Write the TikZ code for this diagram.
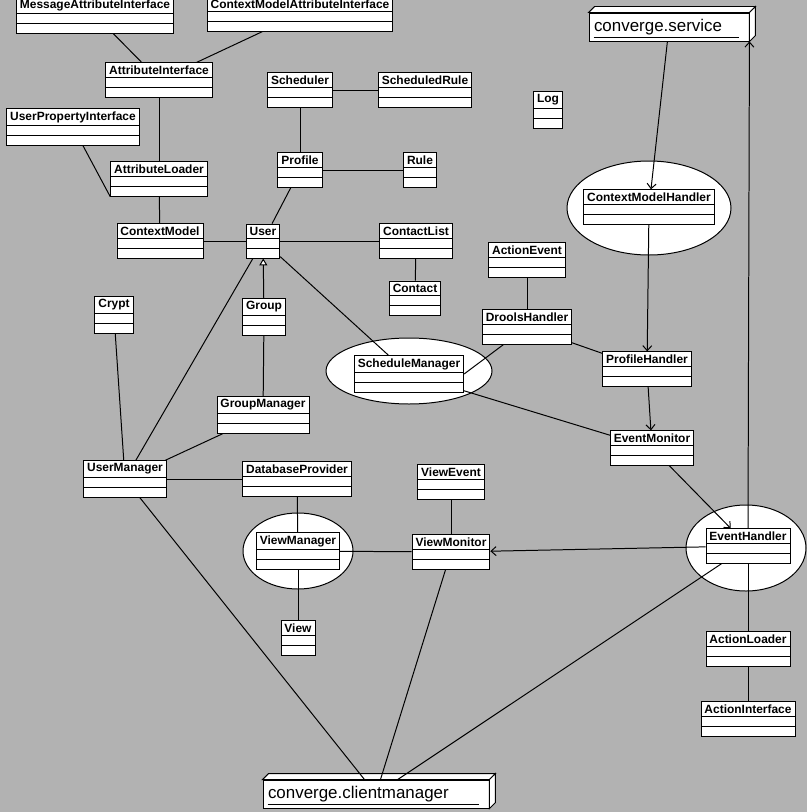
\documentclass[tikz,border=0pt]{standalone}
\usepackage{fontspec}
\setsansfont{Liberation Sans}
\usetikzlibrary{shapes.multipart,shapes.geometric,arrows.meta}
\tikzset{
  cls/.style={draw, fill=white, rectangle split, rectangle split parts=3,
    rectangle split empty part height=0.5pt, inner xsep=3.5pt, inner ysep=2.4pt,
    font=\sffamily\bfseries\fontsize{12}{13}\selectfont, line width=0.9pt},
  oval/.style={draw, fill=white, ellipse, line width=1pt},
  pkg/.style={draw, fill=white, font=\sffamily\fontsize{17}{18}\selectfont,
    minimum height=28bp, inner xsep=5pt, align=left, line width=0.9pt},
  link/.style={line width=1pt},
  dep/.style={line width=1pt, -{Straight Barb[length=5pt,width=9pt]}},
  gen/.style={line width=1pt, -{Triangle[open,length=7pt,width=8pt,fill=white]}},
}
\newcommand{\pkgbox}[1]{%
  \draw[line width=0.9pt, fill=white] (#1.north west) -- ++(6,-6) -- ([shift={(6,-6)}]#1.north east) -- (#1.north east) -- cycle;
  \draw[line width=0.9pt, fill=white] (#1.north east) -- ++(6,-6) -- ([shift={(6,-6)}]#1.south east) -- (#1.south east) -- cycle;
  \draw[line width=0.7pt] ([shift={(5,-4)}]#1.south west) -- ([shift={(-10,-4)}]#1.south east);
}
\begin{document}
\begin{tikzpicture}[x=1bp, y=-1bp]
  \fill[gray!60] (0,0) rectangle (807,812);
  \useasboundingbox (0,0) rectangle (807,812);

  % ellipses behind
  \node[oval, minimum width=166bp, minimum height=66bp] (sme) at (409,371) {};
  \node[oval, minimum width=110bp, minimum height=76bp] (vme) at (298,551) {};
  \node[oval, minimum width=120bp, minimum height=86bp] (ehe) at (746,548) {};
  \node[oval, minimum width=164bp, minimum height=94bp] (cmhe) at (649,208) {};

  % packages
  \node[pkg, text width=150bp] (service) at (669,27) {converge.service};
  \node[pkg, text width=216bp] (client) at (376,794) {converge.clientmanager};
  \pkgbox{service}
  \pkgbox{client}

  % classes
  \node[cls] (mai) at (95,15) {MessageAttributeInterface};
  \node[cls] (cmai) at (300,14) {ContextModelAttributeInterface};
  \node[cls] (ai) at (159,80) {AttributeInterface};
  \node[cls] (sched) at (300,90) {Scheduler};
  \node[cls] (srule) at (425,90) {ScheduledRule};
  \node[cls] (log) at (548,110) {Log};
  \node[cls] (upi) at (73,127) {UserPropertyInterface};
  \node[cls] (al) at (159,179) {AttributeLoader};
  \node[cls] (profile) at (300,170) {Profile};
  \node[cls] (rule) at (420,170) {Rule};
  \node[cls] (cm) at (160,241) {ContextModel};
  \node[cls] (user) at (263,241) {User};
  \node[cls] (clist) at (416,241) {ContactList};
  \node[cls] (aevent) at (527,260) {ActionEvent};
  \node[cls] (contact) at (415,298) {Contact};
  \node[cls] (crypt) at (114,315) {Crypt};
  \node[cls] (group) at (264,317) {Group};
  \node[cls] (drools) at (527,327) {DroolsHandler};
  \node[cls] (sm) at (409,374) {ScheduleManager};
  \node[cls] (ph) at (647,369) {ProfileHandler};
  \node[cls] (gm) at (263,415) {GroupManager};
  \node[cls] (em) at (652,448) {EventMonitor};
  \node[cls] (um) at (125,479) {UserManager};
  \node[cls] (dbp) at (297,479) {DatabaseProvider};
  \node[cls] (vevent) at (451,482) {ViewEvent};
  \node[cls] (vm) at (298,551) {ViewManager};
  \node[cls] (vmon) at (451,552) {ViewMonitor};
  \node[cls] (eh) at (748,546) {EventHandler};
  \node[cls] (view) at (298,638) {View};
  \node[cls] (aload) at (748,649) {ActionLoader};
  \node[cls] (aif) at (748,719) {ActionInterface};
  \node[cls] (cmh) at (649,207) {ContextModelHandler};

  % associations
  \draw[link] (mai) -- (ai);
  \draw[link] (cmai) -- (ai);
  \draw[link] (ai) -- (al);
  \draw[link] (upi) -- (al.south west);
  \draw[link] (al) -- (cm);
  \draw[link] (cm) -- (user);
  \draw[link] (sched) -- (srule);
  \draw[link] (sched) -- (profile);
  \draw[link] (profile) -- (rule);
  \draw[link] (profile) -- (user);
  \draw[link] (user) -- (clist);
  \draw[link] (clist) -- (contact);
  \draw[link] (user) -- (sm);
  \draw[link] (user) -- (um);
  \draw[gen] (group) -- (user);
  \draw[link] (group) -- (gm);
  \draw[link] (gm) -- (um);
  \draw[link] (crypt) -- (um);
  \draw[link] (um) -- (dbp);
  \draw[link] (um) -- (client);
  \draw[link] (dbp) -- (vm);
  \draw[link] (vm) -- (view);
  \draw[link] (vm) -- (vmon);
  \draw[link] (vevent) -- (vmon);
  \draw[dep] (eh) -- (vmon);
  \draw[link] (vmon) -- (client);
  \draw[link] (eh) -- (client);
  \draw[link] (aevent) -- (drools);
  \draw[link] (drools) -- (sm.east);
  \draw[link] (drools) -- (ph);
  \draw[link] (sm) -- (em);
  \draw[dep] (cmh) -- (ph);
  \draw[dep] (ph) -- (em);
  \draw[dep] (em) -- (eh);
  \draw[dep] (eh.north) -- (service.south east);
  \draw[dep] (service) -- (cmh);
  \draw[link] (eh) -- (aload);
  \draw[link] (aload) -- (aif);
\end{tikzpicture}
\end{document}
